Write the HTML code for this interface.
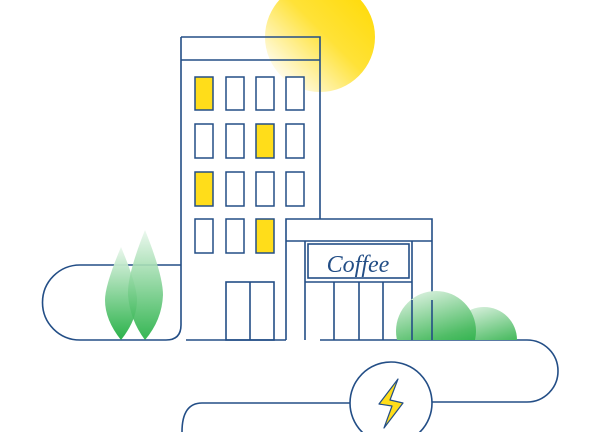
<!DOCTYPE html>
<html><head><meta charset="utf-8"><style>html,body{margin:0;padding:0;background:#fff}svg{display:block}</style></head>
<body>
<svg width="600" height="432" viewBox="0 0 600 432" xmlns="http://www.w3.org/2000/svg">
<defs>
<linearGradient id="sun" x1="0.85" y1="0.15" x2="0.15" y2="0.85">
<stop offset="0" stop-color="#ffdc10"/><stop offset="0.45" stop-color="#ffe238"/><stop offset="1" stop-color="#fffbe6"/>
</linearGradient>
<linearGradient id="leaf" x1="0" y1="0" x2="0" y2="1">
<stop offset="0" stop-color="#eaf7ed"/><stop offset="1" stop-color="#1fae40"/>
</linearGradient>
<linearGradient id="bush" x1="0.3" y1="0" x2="0.6" y2="1">
<stop offset="0" stop-color="#d8f0dd"/><stop offset="0.6" stop-color="#50bd66"/><stop offset="1" stop-color="#0aa82f"/>
</linearGradient>
<clipPath id="g"><rect x="0" y="0" width="600" height="340"/></clipPath>
</defs>
<circle cx="320" cy="37" r="55" fill="url(#sun)"/>
<g fill="#ffdd1a" stroke="#234e86" stroke-width="1.5">
<rect x="195" y="77" width="18" height="33"/><rect x="226" y="77" width="18" height="33" fill="#fff"/><rect x="256" y="77" width="18" height="33" fill="#fff"/><rect x="286" y="77" width="18" height="33" fill="#fff"/>
<rect x="195" y="124" width="18" height="34" fill="#fff"/><rect x="226" y="124" width="18" height="34" fill="#fff"/><rect x="256" y="124" width="18" height="34"/><rect x="286" y="124" width="18" height="34" fill="#fff"/>
<rect x="195" y="172" width="18" height="34"/><rect x="226" y="172" width="18" height="34" fill="#fff"/><rect x="256" y="172" width="18" height="34" fill="#fff"/><rect x="286" y="172" width="18" height="34" fill="#fff"/>
<rect x="195" y="219" width="18" height="34" fill="#fff"/><rect x="226" y="219" width="18" height="34" fill="#fff"/><rect x="256" y="219" width="18" height="34"/>
</g>
<g fill="none" stroke="#234e86" stroke-width="1.6">
<path d="M181 37 H320 V219 M181 60 H320"/>
<path d="M181 37 V325 Q181 340 166 340 H80 A37.5 37.5 0 0 1 80 265 H181"/>
<path d="M186 340 H286"/>
<rect x="226" y="282" width="48" height="58"/>
<path d="M250 282 V340"/>
<rect x="286" y="219" width="146" height="121" fill="#fff" stroke="none"/>
<path d="M286 340 V219 H432 V340 M286 241 H432"/>
<path d="M305 340 V241 M412 241 V340"/>
<rect x="308" y="244" width="101" height="34"/>
<path d="M305 282 H412 M334 282 V340 M359 282 V340 M383 282 V340"/>
<path d="M320 340 H527 A31 31 0 0 1 527 402 H432"/>
<path d="M350 403 H202 Q182 403 182 432"/>
<circle cx="391" cy="403" r="41" fill="#fff"/>
</g>
<path d="M398 379 L379 404 L392 406 L384 428 L403 403 L390 400 Z" fill="#ffdd1a" stroke="#234e86" stroke-width="1.2" stroke-linejoin="round"/>
<text x="358" y="272" font-family="Liberation Serif, serif" font-style="italic" font-size="24" fill="#234e86" text-anchor="middle">Coffee</text>
<path d="M121 247 Q105 285 105 300 Q105 320 121 340 Q137 320 137 300 Q137 285 121 247 Z" fill="url(#leaf)" opacity="0.95"/>
<path d="M145 230 Q127 275 128 295 Q130 320 145 340 Q162 320 163 295 Q163 275 145 230 Z" fill="url(#leaf)" opacity="0.9"/>
<g clip-path="url(#g)">
<circle cx="484" cy="340" r="33" fill="url(#bush)"/>
<circle cx="436" cy="331" r="40" fill="url(#bush)"/>
</g>
<path d="M412 300 V340 M432 300 V340" stroke="#234e86" stroke-width="1.6"/>
</svg>
</body></html>
